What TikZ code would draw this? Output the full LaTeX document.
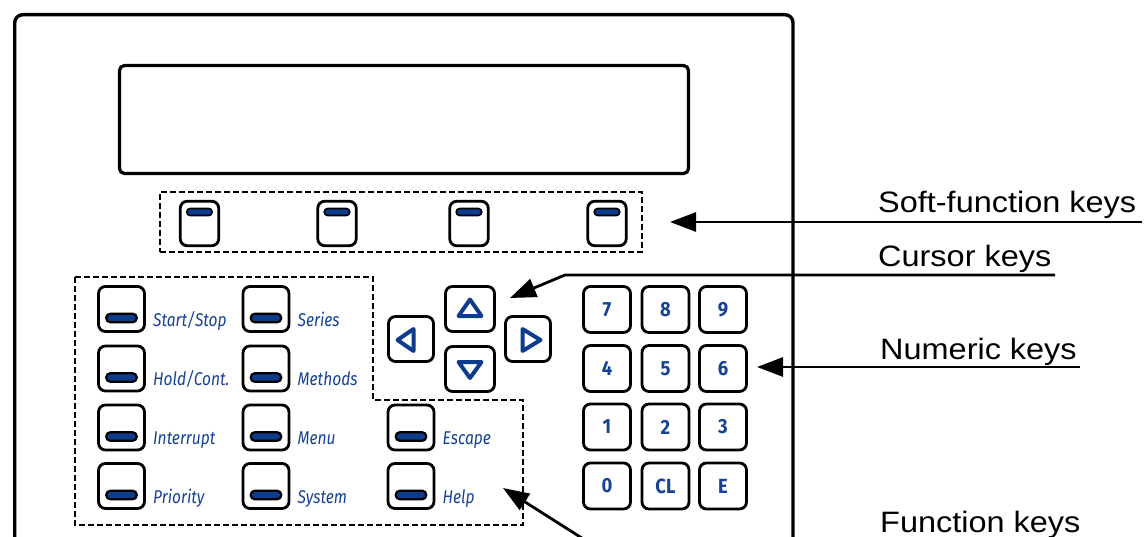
\documentclass[tikz,border=0pt]{standalone}
\usepackage{fontspec}
\usetikzlibrary{arrows.meta,calc}
\newfontfamily\labfont[FakeStretch=1.1]{Liberation Sans}
\newfontfamily\keyfont[FakeStretch=0.84]{Fira Sans}
\newfontfamily\digfont[FakeStretch=0.9]{Fira Sans}
\definecolor{keyblue}{RGB}{14,60,140}
\definecolor{txtblue}{RGB}{22,66,148}
\tikzset{
  panel/.style={draw, line width=3.4pt, rounded corners=8pt},
  key/.style={draw, line width=2.8pt, rounded corners=7pt, inner sep=0pt},
  fkey/.style={key, minimum width=46pt, minimum height=45pt},
  skey/.style={key, minimum width=38.5pt, minimum height=44.5pt},
  ckey/.style={key, minimum width=49pt, minimum height=45pt},
  sidekey/.style={key, minimum width=45pt, minimum height=45pt},
  nkey/.style={key, minimum width=47pt, minimum height=46pt, text=txtblue, font=\digfont\bfseries\fontsize{20.5}{20.5}\selectfont},
  fbar/.style={draw, line width=2.2pt, fill=keyblue, rounded corners=4pt, minimum width=30.5pt, minimum height=8.5pt, inner sep=0pt},
  sbar/.style={fbar, line width=1.6pt, minimum width=25.5pt, minimum height=7pt, rounded corners=3.4pt},
  flab/.style={text=txtblue, font=\keyfont\itshape\fontsize{18.5}{18.5}\selectfont, inner sep=0pt, anchor=base west},
  tri/.style={draw=keyblue, line width=4pt, line join=round},
  group/.style={draw, line width=2.6pt, dash pattern=on 6pt off 3pt},
  callout/.style={line width=2.8pt, -{Triangle[length=26pt,width=19pt]}},
  sidelab/.style={font=\labfont\fontsize{29.5}{29.5}\selectfont, inner sep=0pt, anchor=base west}
}
\newcommand\fnkey[4]{%
  \node[fkey] (#1) at (#2,#3) {};
  \node[fbar] (#1bar) at ($(#1)+(0,9)$) {};
  \node[flab] (#1lab) at ($(#1)+(31.5,17)$) {#4};
}
\begin{document}
\begin{tikzpicture}[x=1pt,y=-1pt]
\useasboundingbox (0,0) rectangle (1145,537);
\begin{scope}
\clip (0,0) rectangle (1145,537);
% outer panel
\draw[panel] (14.7,560) -- (14.7,14.7) -- (793,14.7) -- (793,560);
% display
\node[draw, line width=3.2pt, rounded corners=5pt, minimum width=569pt, minimum height=108pt] (display) at (404,119.5) {};
% soft keys
\node[group, minimum width=482pt, minimum height=60pt, inner sep=0pt] (softgrp) at (401,222) {};
\foreach \n/\x in {s1/199.5, s2/337, s3/469, s4/607}{
  \node[skey] (\n) at (\x,223.5) {};
  \node[sbar] (\n bar) at ($(\n)+(0,-11.5)$) {};
}
% function keys group
\draw[group] (75,277) coordinate (fg1) -- (373,277) -- (373,400) -- (523,400) coordinate (fgc) -- (523,525) -- (75,525) -- cycle;
\fnkey{fa}{121.5}{309}{Start/Stop}
\fnkey{fb}{266}{309}{Series}
\fnkey{fc}{121.5}{368.5}{Hold/Cont.}
\fnkey{fd}{266}{368.5}{Methods}
\fnkey{fe}{121.5}{427.5}{Interrupt}
\fnkey{ff}{266}{427.5}{Menu}
\fnkey{fg}{411}{427.5}{Escape}
\fnkey{fh}{121.5}{486}{Priority}
\fnkey{fi}{266}{486}{System}
\fnkey{fj}{411}{486}{Help}
% cursor keys
\node[ckey] (up) at (470,309) {};
\node[ckey] (down) at (470,369) {};
\node[sidekey] (left) at (411,339) {};
\node[sidekey] (right) at (528,339) {};
\draw[tri] ($(up)+(0,-9.5)$) -- ($(up)+(-11.5,7)$) -- ($(up)+(11.5,7)$) -- cycle;
\draw[tri] ($(down)+(0,9)$) -- ($(down)+(-11.5,-7)$) -- ($(down)+(11.5,-7)$) -- cycle;
\draw[tri] ($(left)+(-13.5,1)$) -- ($(left)+(2.5,-10)$) -- ($(left)+(2.5,12)$) -- cycle;
\draw[tri] ($(right)+(12.5,1)$) -- ($(right)+(-5.5,-10)$) -- ($(right)+(-5.5,12)$) -- cycle;
% numeric keys
\foreach \n/\x/\y/\t in {k7/607/309.5/7, k8/665.5/309.5/8, k9/723/309.5/9,
  k4/607/368.5/4, k5/665.5/368.5/5, k6/723/368.5/6,
  k1/607/427/1, k2/665.5/427/2, k3/723/427/3,
  k0/607/486/0, kcl/665.5/486/CL, ke/723/486/E}{
  \node[nkey] (\n) at (\x,\y) {\t};
}
% side labels and callouts
\node[sidelab] (lsoft) at (878,213) {Soft-function keys};
\node[sidelab] (lcur) at (878,266) {Cursor keys};
\node[sidelab] (lnum) at (880,359) {Numeric keys};
\node[sidelab] (lfun) at (880,532) {Function keys};
\coordinate (softend) at (1142,222);
\coordinate (softtip) at (670,222);
\coordinate (curend) at (1055,275);
\coordinate (curbend) at (565,275);
\coordinate (curtip) at (510,298);
\coordinate (numend) at (1080,367);
\coordinate (numtip) at (757,367);
\coordinate (funend) at (596,547);
\coordinate (funtip) at (503,488);
\draw[callout] (softend) -- (softtip);
\draw[callout] (curend) -- (curbend) -- (curtip);
\draw[callout] (numend) -- (numtip);
\draw[callout] (funend) -- (funtip);
\end{scope}
\end{tikzpicture}
\end{document}
